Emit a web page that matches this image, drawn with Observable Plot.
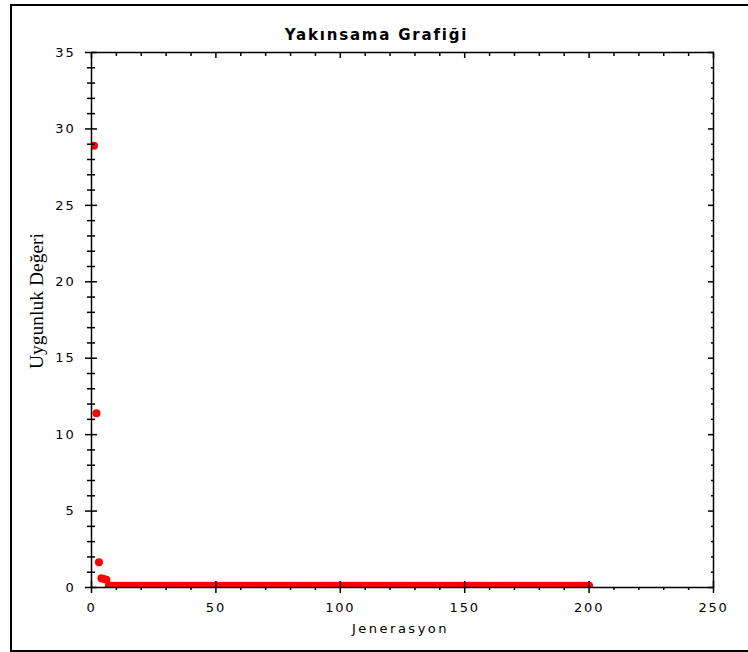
<!DOCTYPE html>
<html>
<head>
<meta charset="utf-8">
<script src="https://cdn.jsdelivr.net/npm/d3@7"></script>
<script src="https://cdn.jsdelivr.net/npm/@observablehq/plot@0.6"></script>
<style>
  body { margin: 0; background: #fff; overflow: hidden; }
  #wrap { position: relative; width: 748px; height: 652px; overflow: hidden; }
  #chart { position: absolute; left: 0; top: 0; }
  #border { position: absolute; left: 10px; top: 4px; width: 800px; height: 644px; border: 2px solid #000; border-right: none; pointer-events: none; }
</style>
</head>
<body>
<div id="wrap">
  <div id="chart"></div>
  <div id="border"></div>
</div>
<script>
// ---- data ----
const titleText = "Yakınsama Grafiği";
const xLabel = "Jenerasyon";
const yLabel = "Uygunluk Değeri";
const xMajorTicks = [0, 50, 100, 150, 200, 250];
const xMinorTicks = [10, 20, 30, 40, 60, 70, 80, 90, 110, 120, 130, 140, 160, 170, 180, 190, 210, 220, 230, 240];
const yMajorTicks = [0, 5, 10, 15, 20, 25, 30, 35];
const yMinorTicks = [1,2,3,4,6,7,8,9,11,12,13,14,16,17,18,19,21,22,23,24,26,27,28,29,31,32,33,34];
// fitness value per generation (generation 1..200)
const fitness = [
  28.9, 11.4, 1.65, 0.6, 0.55, 0.5,
  0.12, 0.12, 0.12, 0.12, 0.12, 0.12, 0.12, 0.12, 0.12, 0.12,
  0.12, 0.12, 0.12, 0.12, 0.12, 0.12, 0.12, 0.12, 0.12, 0.12,
  0.12, 0.12, 0.12, 0.12, 0.12, 0.12, 0.12, 0.12, 0.12, 0.12,
  0.12, 0.12, 0.12, 0.12, 0.12, 0.12, 0.12, 0.12, 0.12, 0.12,
  0.12, 0.12, 0.12, 0.12, 0.12, 0.12, 0.12, 0.12, 0.12, 0.12,
  0.12, 0.12, 0.12, 0.12, 0.12, 0.12, 0.12, 0.12, 0.12, 0.12,
  0.12, 0.12, 0.12, 0.12, 0.12, 0.12, 0.12, 0.12, 0.12, 0.12,
  0.12, 0.12, 0.12, 0.12, 0.12, 0.12, 0.12, 0.12, 0.12, 0.12,
  0.12, 0.12, 0.12, 0.12, 0.12, 0.12, 0.12, 0.12, 0.12, 0.12,
  0.12, 0.12, 0.12, 0.12, 0.12, 0.12, 0.12, 0.12, 0.12, 0.12,
  0.12, 0.12, 0.12, 0.12, 0.12, 0.12, 0.12, 0.12, 0.12, 0.12,
  0.12, 0.12, 0.12, 0.12, 0.12, 0.12, 0.12, 0.12, 0.12, 0.12,
  0.12, 0.12, 0.12, 0.12, 0.12, 0.12, 0.12, 0.12, 0.12, 0.12,
  0.12, 0.12, 0.12, 0.12, 0.12, 0.12, 0.12, 0.12, 0.12, 0.12,
  0.12, 0.12, 0.12, 0.12, 0.12, 0.12, 0.12, 0.12, 0.12, 0.12,
  0.12, 0.12, 0.12, 0.12, 0.12, 0.12, 0.12, 0.12, 0.12, 0.12,
  0.12, 0.12, 0.12, 0.12, 0.12, 0.12, 0.12, 0.12, 0.12, 0.12,
  0.12, 0.12, 0.12, 0.12, 0.12, 0.12, 0.12, 0.12, 0.12, 0.12,
  0.12, 0.12, 0.12, 0.12, 0.12, 0.12, 0.12, 0.12, 0.12, 0.12,
  0.12, 0.12, 0.12, 0.12
];
const generation = fitness.map((_, i) => i + 1);

const rows = generation.map((g, i) => ({gen: g, value: fitness[i]}));

const sansFont = "DejaVu Sans, Verdana, sans-serif";
const tickStyle = {fontSize: 13, fontFamily: sansFont};

const chart = Plot.plot({
  width: 748,
  height: 652,
  marginLeft: 91,
  marginRight: 35,
  marginTop: 52,
  marginBottom: 65,
  style: {background: "transparent", overflow: "visible", color: "#000"},
  x: {domain: [0, 250]},
  y: {domain: [0, 35]},
  marks: [
    Plot.dot(rows, {x: "gen", y: "value", r: 4, fill: "#ff0000", stroke: "none", clip: true}),
    Plot.frame({stroke: "#000", strokeWidth: 1.5}),
    // bottom axis: major crossing ticks, minor ticks below
    Plot.axisX(xMajorTicks, {anchor: "bottom", tickSize: 12, dy: -6, tickFormat: () => "", fill: "none", label: null, strokeWidth: 1.5}),
    Plot.axisX(xMinorTicks, {anchor: "bottom", tickSize: 3, tickFormat: () => "", fill: "none", label: null, strokeWidth: 1.5}),
    Plot.axisX(xMajorTicks, {anchor: "bottom", tickSize: 0, tickPadding: 15, label: null, ...tickStyle}),
    // top axis: inward ticks
    Plot.axisX(xMajorTicks, {anchor: "top", tickSize: 5, dy: 5, tickFormat: () => "", fill: "none", label: null, strokeWidth: 1.5}),
    Plot.axisX(xMinorTicks, {anchor: "top", tickSize: 3, dy: 3, tickFormat: () => "", fill: "none", label: null, strokeWidth: 1.5}),
    // left axis: crossing ticks
    Plot.axisY(yMajorTicks, {anchor: "left", tickSize: 12, dx: 6, tickFormat: () => "", fill: "none", label: null, strokeWidth: 1.5}),
    Plot.axisY(yMinorTicks, {anchor: "left", tickSize: 8, dx: 4, tickFormat: () => "", fill: "none", label: null, strokeWidth: 1.5}),
    Plot.axisY(yMajorTicks, {anchor: "left", tickSize: 0, tickPadding: 16, label: null, ...tickStyle}),
    // right axis: inward ticks
    Plot.axisY(yMajorTicks, {anchor: "right", tickSize: 6, dx: -6, tickFormat: () => "", fill: "none", label: null, strokeWidth: 1.5}),
    Plot.axisY(yMinorTicks, {anchor: "right", tickSize: 3, dx: -3, tickFormat: () => "", fill: "none", label: null, strokeWidth: 1.5}),
    // titles
    Plot.text([titleText], {frameAnchor: "top", dx: -26, dy: -17, lineAnchor: "middle", textAnchor: "middle", fontWeight: "bold", fontSize: 15, fontFamily: sansFont, fill: "#000"}),
    Plot.text([xLabel], {frameAnchor: "bottom", dx: -2, dy: 41, lineAnchor: "middle", textAnchor: "middle", ...tickStyle, fill: "#000"}),
    Plot.text([yLabel], {frameAnchor: "left", dx: -55, dy: -19, rotate: -90, lineAnchor: "middle", textAnchor: "middle", fontSize: 19.5, fontFamily: "Liberation Serif, Times New Roman, serif", fill: "#000"})
  ]
});
// widen the letter spacing of the sans-serif texts, as in the reference
d3.select(chart).selectAll("text").each(function () {
  const t = this.textContent;
  if (t === titleText) this.setAttribute("letter-spacing", "1.8px");
  else if (t === xLabel) this.setAttribute("letter-spacing", "2.5px");
  else if (/^\d+$/.test(t)) this.setAttribute("letter-spacing", "1.8px");
});
document.getElementById("chart").appendChild(chart);
</script>
</body>
</html>
